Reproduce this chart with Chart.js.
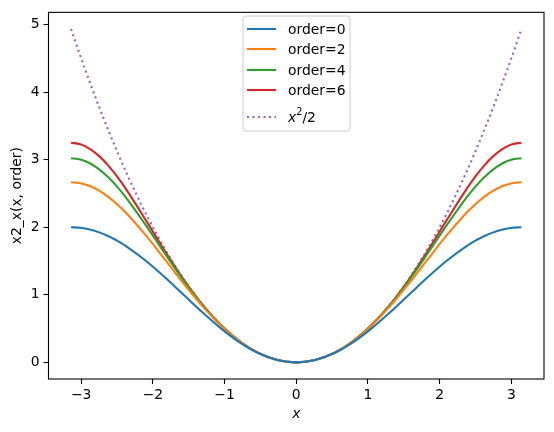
<!DOCTYPE html>
<html>
<head>
<meta charset="utf-8">
<script src="https://cdn.jsdelivr.net/npm/chart.js@4.4.1/dist/chart.umd.min.js"></script>
<style>
  html, body { margin: 0; padding: 0; background: #fff; }
  #wrap { position: relative; width: 554px; height: 432px; }
</style>
</head>
<body>
<div id="wrap"><canvas id="chart" width="554" height="432"></canvas></div>
<script>
// x samples for x >= 0 (up to pi); the curves are symmetric and mirrored below
const xHalf = [0, 0.261799, 0.523599, 0.785398, 1.047198, 1.308997, 1.570796,
  1.832596, 2.094395, 2.356194, 2.487094, 2.617994, 2.748894, 2.879793, 3.010693, 3.141593];

const order0Half = [0, 0.034074, 0.133975, 0.292893, 0.5, 0.741181, 1,
  1.258819, 1.5, 1.707107, 1.793353, 1.866025, 1.923880, 1.965926, 1.991445, 2];
const order2Half = [0, 0.034268, 0.136967, 0.307191, 0.541667, 0.832739, 1.166667,
  1.522923, 1.875, 2.192809, 2.329372, 2.446367, 2.540766, 2.610070, 2.652421, 2.666667];
const order4Half = [0, 0.034269, 0.137073, 0.308308, 0.547222, 0.850835, 1.211111,
  1.611579, 2.025, 2.413914, 2.585712, 2.735149, 2.857249, 2.947761, 3.003433, 3.022222];
const order6Half = [0, 0.034270, 0.137077, 0.308412, 0.548115, 0.855147, 1.225397,
  1.647451, 2.097321, 2.535238, 2.733474, 2.908359, 3.052959, 3.161148, 3.228119, 3.250794];
const halfX2Half = [0, 0.034269, 0.137078, 0.308425, 0.548311, 0.856736, 1.233701,
  1.679204, 2.193245, 2.775826, 3.092818, 3.426945, 3.778209, 4.146604, 4.532136, 4.934802];

const xTicks = [-3, -2, -1, 0, 1, 2, 3];
const yTicks = [0, 1, 2, 3, 4, 5];

const FONT = 'DejaVu Sans';
const FS = 13.9;

const xs = xHalf.slice(1).reverse().map(v => -v).concat(xHalf);
function pts(half) {
  const ys = half.slice(1).reverse().concat(half);
  return xs.map((x, i) => ({ x, y: ys[i] }));
}
const fmt = v => String(v).replace('-', '\u2212');

const series = [
  { label: 'order=0', data: pts(order0Half), color: '#1f77b4' },
  { label: 'order=2', data: pts(order2Half), color: '#ff7f0e' },
  { label: 'order=4', data: pts(order4Half), color: '#2ca02c' },
  { label: 'order=6', data: pts(order6Half), color: '#d62728' },
  { label: 'x^2/2', data: pts(halfX2Half), color: '#9467bd', dash: [2.1, 3.4] }
];

const frame = {
  id: 'frame',
  afterDraw(chart) {
    const { ctx, chartArea: a } = chart;
    ctx.save();
    ctx.strokeStyle = '#000';
    ctx.lineWidth = 1.1;
    ctx.strokeRect(a.left, a.top, a.right - a.left, a.bottom - a.top);

    // axis labels
    ctx.fillStyle = '#000';
    ctx.textAlign = 'center';
    ctx.textBaseline = 'middle';
    ctx.font = 'italic ' + FS + 'px ' + FONT;
    ctx.fillText('x', (a.left + a.right) / 2, 414);
    ctx.save();
    ctx.translate(17, (a.top + a.bottom) / 2);
    ctx.rotate(-Math.PI / 2);
    ctx.font = FS + 'px ' + FONT;
    ctx.fillText('x2_x(x, order)', 0, 0);
    ctx.restore();

    // legend
    const bx = 243, by = 16, bw = 107, bh = 115;
    ctx.beginPath();
    ctx.roundRect(bx, by, bw, bh, 3);
    ctx.fillStyle = 'rgba(255,255,255,0.8)';
    ctx.fill();
    ctx.strokeStyle = '#cccccc';
    ctx.lineWidth = 1;
    ctx.stroke();
    const rows = [29, 49, 70, 90, 117];
    ctx.textAlign = 'left';
    series.forEach((s, i) => {
      const y = rows[i];
      ctx.beginPath();
      ctx.strokeStyle = s.color;
      ctx.lineWidth = 2.1;
      ctx.setLineDash(s.dash || []);
      ctx.moveTo(247, y);
      ctx.lineTo(276, y);
      ctx.stroke();
      ctx.setLineDash([]);
      ctx.fillStyle = '#000';
      if (s.dash) {
        ctx.font = 'italic ' + FS + 'px ' + FONT;
        ctx.fillText('x', 288, y + 1);
        let w = ctx.measureText('x').width;
        ctx.font = '9.7px ' + FONT;
        ctx.fillText('2', 288 + w, y - 5);
        w += ctx.measureText('2').width;
        ctx.font = FS + 'px ' + FONT;
        ctx.fillText('/2', 288 + w, y + 1);
      } else {
        ctx.font = FS + 'px ' + FONT;
        ctx.fillText(s.label, 288, y + 1);
      }
    });
    ctx.restore();
  }
};

new Chart(document.getElementById('chart'), {
  type: 'line',
  data: {
    datasets: series.map(s => ({
      label: s.label,
      data: s.data,
      borderColor: s.color,
      backgroundColor: s.color,
      borderWidth: 2.1,
      borderDash: s.dash || [],
      pointRadius: 0,
      cubicInterpolationMode: 'monotone',
      fill: false
    }))
  },
  options: {
    responsive: false,
    animation: false,
    layout: { padding: { top: 9, right: 10, left: 0, bottom: 0 } },
    plugins: { legend: { display: false }, tooltip: { enabled: false } },
    scales: {
      x: {
        type: 'linear',
        min: -3.456,
        max: 3.456,
        afterBuildTicks: ax => { ax.ticks = xTicks.map(v => ({ value: v })); },
        afterFit: ax => { ax.height = 53; },
        grid: { drawOnChartArea: false, tickLength: 5, color: '#000', tickWidth: 1.1 },
        border: { display: false },
        ticks: { callback: v => fmt(v), color: '#000', font: { family: FONT, size: FS }, padding: 3, maxRotation: 0 }
      },
      y: {
        type: 'linear',
        min: -0.2467,
        max: 5.1815,
        afterBuildTicks: ax => { ax.ticks = yTicks.map(v => ({ value: v })); },
        afterFit: ax => { ax.width = 48.5; },
        grid: { drawOnChartArea: false, tickLength: 5, color: '#000', tickWidth: 1.1 },
        border: { display: false },
        ticks: { callback: v => fmt(v), color: '#000', font: { family: FONT, size: FS }, padding: 4 }
      }
    }
  },
  plugins: [frame]
});
</script>
</body>
</html>
